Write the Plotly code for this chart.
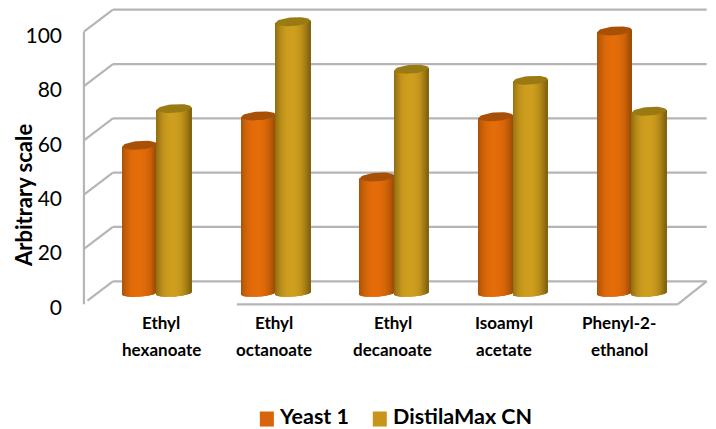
import math
import plotly.graph_objects as go

# ---- data ----
categories_line1 = ["Ethyl", "Ethyl", "Ethyl", "Isoamyl", "Phenyl-2-"]
categories_line2 = ["hexanoate", "octanoate", "decanoate", "acetate", "ethanol"]
yeast_1 = [54.5, 65.3, 42.8, 65, 96.6]
distilamax_cn = [68, 100, 82.5, 78.4, 67]
y_ticks = [0, 20, 40, 60, 80, 100]
# ---- style ----
FONT = "Lato"
GRID = "#B5B5B5"
DEPTH_X, DEPTH_Y = 0.244, 8.1      # oblique offset of back wall, in axis units
LIFT = 3.7                         # floor height of the cylinders' base in axis units
GROUP0 = 0.6145                    # first group centre
CYL_W = 0.29
CAP_H = 1.6
BOTTOM_H = 1.25
TILT = 0.45
N = 36
label_x = [0.65, 1.6, 2.6, 3.535, 4.51]
PX_X, PX_Y = 118.8, 2.71           # pixels per axis unit
X0_PX, Y0_PX = 84, 303             # pixel of x=0 and y=0
XMIN, YMIN = -0.05, -1.0
W, H = 716, 429

SERIES = [
    ("Yeast 1", yeast_1, -CYL_W / 2, (160, 78, 6), (228, 108, 9), "#A85006", "#DA640B", 260, 279),
    ("DistilaMax CN", distilamax_cn, CYL_W / 2, (132, 100, 14), (207, 158, 30), "#9A7A12", "#C6951A", 373, 393),
]


def shade(dark, light, u):
    t = max(0.0, 1 - abs(u + 0.05) ** 2.4)
    return "rgb(%d,%d,%d)" % tuple(round(d + (l - d) * t) for d, l in zip(dark, light))


fig = go.Figure()
for name, vals, off, dark, light, cap, swatch, _sx, _tx in SERIES:
    xs, ys, bs, cs = [], [], [], []
    cx_all, cy_all = [], []
    for i, v in enumerate(vals):
        cx = GROUP0 + i + off
        for k in range(N):
            u = (k + 0.5) / N * 2 - 1
            bot = LIFT - BOTTOM_H * math.sqrt(1 - u * u) + TILT * u
            top = LIFT + v + TILT * u
            xs.append(cx + u * CYL_W / 2)
            bs.append(bot)
            ys.append(top - bot)
            cs.append(shade(dark, light, u))
        for k in range(41):
            a = 2 * math.pi * k / 40
            u = math.cos(a)
            cx_all.append(cx + u * CYL_W / 2)
            cy_all.append(LIFT + v + TILT * u + CAP_H * math.sin(a))
        cx_all.append(None)
        cy_all.append(None)
    fig.add_trace(go.Bar(x=xs, y=ys, base=bs, width=CYL_W / N * 1.25, name=name,
                         marker=dict(color=cs, line=dict(width=0)),
                         showlegend=False, hoverinfo="skip", cliponaxis=False))
    fig.add_trace(go.Scatter(x=cx_all, y=cy_all, mode="lines", line=dict(width=0),
                             fill="toself", fillcolor=cap, showlegend=False,
                             hoverinfo="skip", cliponaxis=False))

# ---- oblique walls ----
shapes = []


def seg(x0, y0, x1, y1):
    shapes.append(dict(type="line", xref="x", yref="y", x0=x0, y0=y0, x1=x1, y1=y1,
                       layer="below", line=dict(color=GRID, width=2.2)))


n_cat = len(categories_line1)
seg(0, -0.4, 0, y_ticks[-1])
for v in y_ticks:
    seg(0.03 if v == 0 else 0, v + (1 if v == 0 else 0), DEPTH_X, v + DEPTH_Y)
    seg(DEPTH_X, v + DEPTH_Y, n_cat + DEPTH_X, v + DEPTH_Y)
seg(1.288, -0.4, n_cat, -0.4)
seg(n_cat, -0.4, n_cat + DEPTH_X, DEPTH_Y)

# ---- axes geometry ----
XMAX = n_cat + DEPTH_X + 0.02
YMAX = y_ticks[-1] + DEPTH_Y + 1
m_l = X0_PX + XMIN * PX_X
m_r = W - (X0_PX + XMAX * PX_X)
m_t = Y0_PX - YMAX * PX_Y
m_b = H - (Y0_PX - YMIN * PX_Y)
plot_w = W - m_l - m_r
plot_h = H - m_t - m_b


def px(x):
    return (x - m_l) / plot_w


def py(y):
    return (H - m_b - y) / plot_h


# ---- category labels on two lines ----
annots = []
for x, a, b in zip(label_x, categories_line1, categories_line2):
    annots.append(dict(x=x, xref="x", y=0, yref="paper", yshift=-16.5, text="<b>%s</b>" % a,
                       showarrow=False, font=dict(family=FONT, size=17, color="#000"),
                       xanchor="center", yanchor="middle"))
    annots.append(dict(x=x, xref="x", y=0, yref="paper", yshift=-43.5, text="<b>%s</b>" % b,
                       showarrow=False, font=dict(family=FONT, size=17, color="#000"),
                       xanchor="center", yanchor="middle"))
annots.append(dict(x=px(23), xref="paper", y=py(195), yref="paper",
                   text="<b>Arbitrary scale</b>", showarrow=False, textangle=-90,
                   xanchor="center", yanchor="middle",
                   font=dict(family=FONT, size=22, color="#000")))

# ---- legend ----
for s in SERIES:
    name, swatch, sx, tx = s[0], s[6], s[7], s[8]
    shapes.append(dict(type="rect", xref="paper", yref="paper", x0=px(sx), x1=px(sx + 14),
                       y0=py(426), y1=py(411), fillcolor=swatch, line=dict(width=0), layer="above"))
    annots.append(dict(x=px(tx), xref="paper", y=py(415.5), yref="paper", text="<b>%s</b>" % name,
                       showarrow=False, xanchor="left", yanchor="middle", xshift=-2,
                       font=dict(family=FONT, size=21.5, color="#000")))

fig.update_layout(
    width=W, height=H, autosize=False, showlegend=False,
    margin=dict(l=m_l, r=m_r, t=m_t, b=m_b, autoexpand=False),
    paper_bgcolor="white", plot_bgcolor="white",
    barmode="overlay",
    shapes=shapes, annotations=annots,
    font=dict(family=FONT, color="#000"),
    xaxis=dict(range=[XMIN, XMAX], showgrid=False, zeroline=False, showline=False,
               showticklabels=False, ticks=""),
    yaxis=dict(range=[YMIN, YMAX], tickvals=y_ticks, ticktext=[str(v) for v in y_ticks],
               showgrid=False, zeroline=False, showline=False, ticks="",
               ticklabelstandoff=15, ticklabelshift=4,
               tickfont=dict(family=FONT, size=21, color="#000")),
)
fig.write_html("out.html", config=dict(displayModeBar=False),
               post_script="document.body.style.margin='0';document.body.style.overflow='hidden';")
